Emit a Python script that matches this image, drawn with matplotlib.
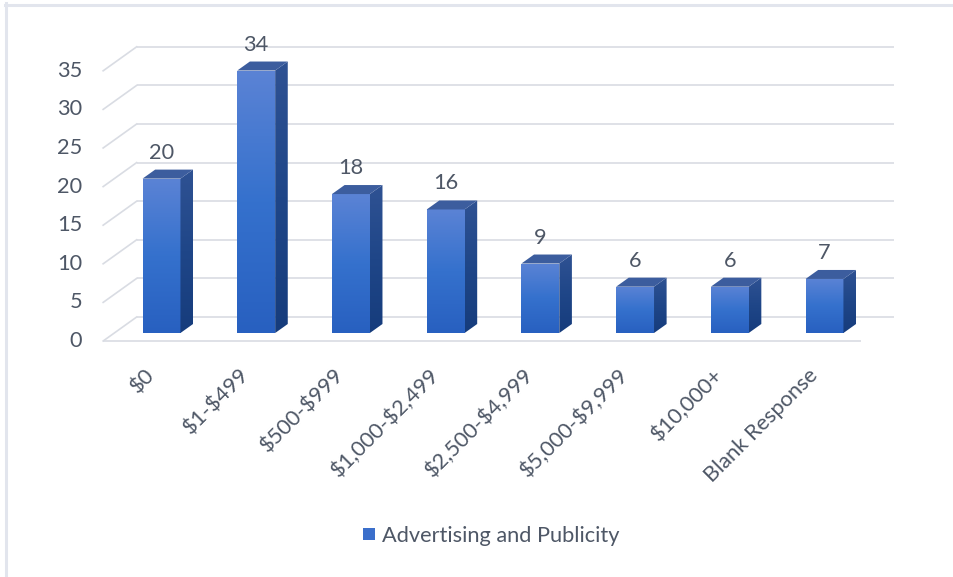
import numpy as np
import matplotlib
matplotlib.use("Agg")
import matplotlib.pyplot as plt
from matplotlib.colors import LinearSegmentedColormap
from matplotlib.patches import Polygon, Rectangle
from matplotlib.lines import Line2D

# ---- data -------------------------------------------------------------
categories = ["$0", "$1-$499", "$500-$999", "$1,000-$2,499", "$2,500-$4,999",
              "$5,000-$9,999", "$10,000+", "Blank Response"]
counts = [20, 34, 18, 16, 9, 6, 6, 7]
y_ticks = [0, 5, 10, 15, 20, 25, 30, 35]
series_name = "Advertising and Publicity"

# ---- style ------------------------------------------------------------
plt.rcParams["text.parse_math"] = False
FONT = "Lato"
TEXT_COLOR = "#4e5766"
GRID_COLOR = "#d9dce3"
FS = 15.7

W, H, DPI = 954, 577, 100
fig = plt.figure(figsize=(W / DPI, H / DPI), dpi=DPI)
fig.patch.set_facecolor("white")
ax = fig.add_axes([0, 0, 1, 1])
ax.set_axis_off()

# geometry of the plane holding the front faces of the bars (pixels)
PX_LEFT, PX_RIGHT = 114.15, 871.85
PX_BASE = 244.0          # y = 0, measured from the bottom
KY = 7.72                # pixels per unit of value
n = len(categories)
KX = (PX_RIGHT - PX_LEFT) / n
x_lo = -0.5 - PX_LEFT / KX
y_lo = -PX_BASE / KY


def off(dxp, dyp):
    """pixel offset -> data offset"""
    return dxp / KX, dyp / KY


BACK = off(22.5, 16)     # back wall relative to the bar front plane
FRONT = off(-11, -8)     # front edge of the floor
DEPTH = off(12.6, 9)     # depth of each bar

# ---- walls and gridlines ---------------------------------------------
x_left, x_right = -0.5, n - 0.5
for v in y_ticks:
    ax.plot([x_left + BACK[0], x_right + BACK[0]], [v + BACK[1]] * 2,
            color=GRID_COLOR, lw=1.2, zorder=1, solid_capstyle="butt")
    ax.plot([x_left + FRONT[0], x_left + BACK[0]], [v + FRONT[1], v + BACK[1]],
            color=GRID_COLOR, lw=1.2, zorder=1)
ax.plot([x_left + FRONT[0], x_right + FRONT[0]], [FRONT[1]] * 2,
        color=GRID_COLOR, lw=1.2, zorder=1, solid_capstyle="butt")

# ---- bars -------------------------------------------------------------
front_cmap = LinearSegmentedColormap.from_list(
    "front", ["#2860c0", "#3571cd", "#5b83d5"])
side_cmap = LinearSegmentedColormap.from_list(
    "side", ["#163c7c", "#1f4688", "#2f5293"])
grad = np.linspace(0, 1, 256).reshape(-1, 1)

x = np.arange(n)
bw = 0.4
bars = ax.bar(x, counts, width=bw, color="none", edgecolor="none", zorder=3)
for rect, h in zip(bars, counts):
    xl = rect.get_x()
    xr = xl + rect.get_width()
    dx, dy = DEPTH
    # front face
    im = ax.imshow(grad, extent=[xl, xr, 0, h], origin="lower", aspect="auto",
                   cmap=front_cmap, zorder=3, interpolation="bilinear")
    im.set_clip_path(rect)
    # side face
    side = Polygon([(xr, 0), (xr + dx, dy), (xr + dx, h + dy), (xr, h)],
                   closed=True, facecolor="none", edgecolor="none", zorder=3)
    ax.add_patch(side)
    ims = ax.imshow(grad, extent=[xr, xr + dx, 0, h + dy], origin="lower",
                    aspect="auto", cmap=side_cmap, zorder=3,
                    interpolation="bilinear")
    ims.set_clip_path(side)
    # top face
    top = Polygon([(xl, h), (xr, h), (xr + dx, h + dy), (xl + dx, h + dy)],
                  closed=True, facecolor="#3c5d9e", edgecolor="none", zorder=3)
    ax.add_patch(top)
    # value label
    ax.text(rect.get_x() + bw / 2, h + 26 / KY, f"{h}", ha="center", va="center",
            fontsize=FS, color=TEXT_COLOR, family=FONT, zorder=5)

ax.set_xlim(x_lo, x_lo + W / KX)
ax.set_ylim(y_lo, y_lo + H / KY)

# ---- value axis labels (on the front edge) -----------------------------
for v in y_ticks:
    ax.text(x_left - 32 / KX, v - 8 / KY, f"{v}", ha="right", va="center",
            fontsize=FS, color=TEXT_COLOR, family=FONT)

# ---- category labels --------------------------------------------------
for i, cat in enumerate(categories):
    ax.text(i - 10 / KX, -39 / KY, cat, rotation=45, rotation_mode="anchor",
            ha="right", va="center", fontsize=FS, color=TEXT_COLOR, family=FONT)

# ---- legend -----------------------------------------------------------
fig.add_artist(Rectangle((363 / W, 1 - 539.5 / H), 12 / W, 12 / H,
                         transform=fig.transFigure, facecolor="#3b6fcb",
                         edgecolor="none"))
fig.text(382 / W, 1 - 536 / H, series_name, ha="left", va="center",
         fontsize=FS, color=TEXT_COLOR, family=FONT)

# ---- chart frame ------------------------------------------------------
fig.add_artist(Line2D([5 / W, 1], [1 - 4.5 / H] * 2, transform=fig.transFigure,
                      color="#e2e5ed", lw=2.2))
fig.add_artist(Line2D([6.5 / W] * 2, [0, 1 - 3 / H], transform=fig.transFigure,
                      color="#e2e5ed", lw=2.2))

fig.savefig("out.png", dpi=DPI, facecolor="white")
